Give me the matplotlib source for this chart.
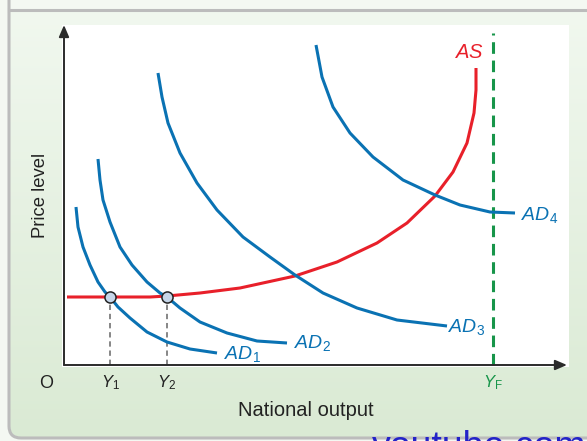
import numpy as np
import matplotlib
matplotlib.use("Agg")
import matplotlib.pyplot as plt
from matplotlib.patches import FancyBboxPatch, Rectangle

plt.rcParams['font.family'] = ['Liberation Sans', 'DejaVu Sans']
plt.rcParams['mathtext.fontset'] = 'custom'
plt.rcParams['mathtext.rm'] = 'Liberation Sans'
plt.rcParams['mathtext.it'] = 'Liberation Sans:italic'

# curves (national output, price level)
ad1_x = [12, 14, 19, 26, 34, 41, 46, 54, 66, 83, 103, 126, 153]
ad1_y = [158, 138, 118, 100, 83, 73, 68, 58, 47, 33, 23, 16, 12]

ad2_x = [34, 36, 39, 46, 56, 68, 83, 96, 103, 116, 136, 163, 193, 223]
ad2_y = [206, 185, 165, 143, 118, 100, 83, 72, 68, 57, 43, 32, 24, 22]

ad3_x = [94, 98, 104, 116, 133, 153, 179, 206, 231, 259, 293, 333, 383]
ad3_y = [292, 268, 242, 212, 182, 155, 128, 108, 90, 72, 57, 45, 39]

ad4_x = [252, 258, 269, 286, 309, 339, 371, 396, 426, 451]
ad4_y = [320, 288, 258, 232, 208, 185, 170, 160, 153, 152]

as_x = [3, 46, 86, 103, 136, 176, 231, 273, 313, 343, 371, 389, 403, 410, 412, 412]
as_y = [68, 68, 68, 69, 72, 77, 89, 103, 122, 142, 169, 193, 222, 252, 275, 297]

eq_x = [46, 103]      # Y1, Y2
eq_y = [68, 68]
yf_x = 429
yf_top = 332

x_labels = ['$Y_1$', '$Y_2$']

BLUE = '#0a72b3'
RED = '#e8202a'
GREEN = '#17954a'

fig = plt.figure(figsize=(5.87, 4.41), dpi=100)
fig.patch.set_facecolor('#f4f8f2')

# background panel in pixel units
bg = fig.add_axes([0, 0, 1, 1])
bg.set_xlim(0, 587)
bg.set_ylim(441, 0)
bg.axis('off')
grad = np.linspace(0, 1, 256).reshape(-1, 1)
top = np.array([0.945, 0.972, 0.937])
bot = np.array([0.855, 0.918, 0.831])
img = top + (bot - top) * grad[..., None]
frame = FancyBboxPatch((9, -30), 620, 468, boxstyle="round,pad=0,rounding_size=12",
                       facecolor='none', edgecolor='#bcbcbc', linewidth=2.2)
bg.add_patch(frame)
im = bg.imshow(img, extent=(9, 629, 438, 10), aspect='auto')
im.set_clip_path(frame)
bg.plot([9, 587], [10, 10], color='#bcbcbc', lw=2.2)
bg.add_patch(Rectangle((62, 25), 507, 342, facecolor='white', edgecolor='none'))
bg.text(372, 457.5, 'youtube.com', fontsize=27, color='#2323c8', ha='left', va='baseline')

ax = fig.add_axes([64 / 587, 76 / 441, 503 / 587, 340 / 441])
ax.set_xlim(0, 503)
ax.set_ylim(0, 340)
ax.patch.set_alpha(0)
for s in ax.spines.values():
    s.set_visible(False)
ax.set_xticks([])
ax.set_yticks([])

arrow = dict(arrowstyle='-|>,head_length=0.7,head_width=0.3', color='#2b2b2b', lw=1.4,
             shrinkA=0, shrinkB=0)
ax.annotate('', xy=(0, 340), xytext=(0, 0), arrowprops=arrow, annotation_clip=False)
ax.annotate('', xy=(503, 0), xytext=(0, 0), arrowprops=arrow, annotation_clip=False)

# Y_F line
ax.plot([yf_x, yf_x], [0, yf_top], color=GREEN, lw=2.2, dashes=(3.8, 2.2), clip_on=False)

ax.plot(as_x, as_y, color=RED, lw=2.2, solid_capstyle='butt', solid_joinstyle='round', zorder=3)
for xs, ys in [(ad1_x, ad1_y), (ad2_x, ad2_y), (ad3_x, ad3_y), (ad4_x, ad4_y)]:
    ax.plot(xs, ys, color=BLUE, lw=2.2, solid_capstyle='butt', solid_joinstyle='round', zorder=3)

for x, y in zip(eq_x, eq_y):
    ax.plot([x, x], [0, y], color='#666666', lw=1.1, dashes=(3.5, 2.5), zorder=2)
ax.plot(eq_x, eq_y, 'o', ms=8, mfc='#c6d6e9', mec='#222222', mew=1.1, zorder=5)

lab = dict(color=BLUE, fontsize=14, va='center', ha='left', clip_on=False)
ax.text(ad1_x[-1] + 7, ad1_y[-1] - 1, '$AD_1$', **lab)
ax.text(ad2_x[-1] + 7, ad2_y[-1], '$AD_2$', **lab)
ax.text(ad3_x[-1] + 1, ad3_y[-1] - 1, '$AD_3$', **lab)
ax.text(ad4_x[-1] + 6, ad4_y[-1] - 2, '$AD_4$', **lab)
ax.text(as_x[-1] + 8, 312, '$AS$', color=RED, fontsize=14.5, ha='right', va='center')

for x, t in zip(eq_x, x_labels):
    ax.text(x, -18, t, fontsize=12, ha='center', va='center', color='#222222')
ax.text(yf_x, -18, '$Y_\\mathrm{F}$', fontsize=12, ha='center', va='center', color=GREEN)
ax.text(-18, -18, 'O', fontsize=13, ha='center', va='center', color='#222222')

ax.set_xlabel('National output', fontsize=14.5, color='#222222')
ax.xaxis.set_label_coords((306 - 64) / 503, -0.105)
ax.set_ylabel('Price level', fontsize=13.3, color='#222222', labelpad=11)

fig.savefig('out.png', dpi=100)
